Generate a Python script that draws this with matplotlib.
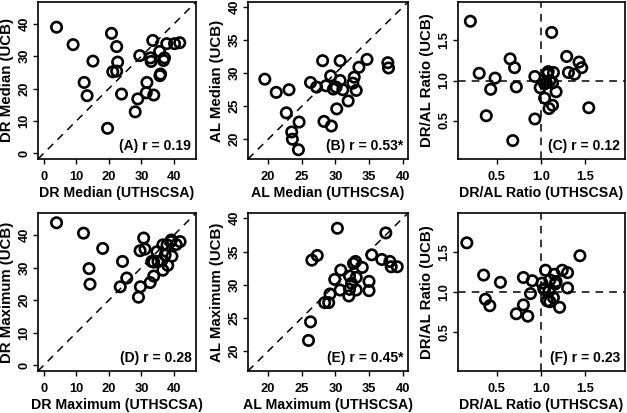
import numpy as np
import matplotlib
matplotlib.use('Agg')
import matplotlib.pyplot as plt

plt.rcParams['font.family'] = ['Liberation Sans', 'DejaVu Sans']
plt.rcParams['font.weight'] = 'bold'

# (A) медианы DR
dr_med_x = [3.9, 9.0, 15.1, 12.4, 13.3, 20.8, 22.4, 22.7, 21.2, 22.4, 23.9, 19.6, 29.5, 28.9, 28.1,
            33.5, 32.8, 33.0, 31.7, 31.5, 33.8, 35.6, 35.9, 35.7, 36.8, 37.1, 37.8, 40.2, 41.8]
dr_med_y = [39.0, 33.6, 28.5, 21.9, 17.8, 37.1, 33.0, 28.2, 25.2, 25.4, 18.3, 7.7, 30.2, 16.8, 12.8,
            34.9, 29.5, 28.4, 21.9, 18.7, 18.0, 31.5, 24.5, 24.0, 28.7, 29.5, 33.9, 33.9, 34.2]

# (B) медианы AL
al_med_x = [19.5, 21.2, 23.1, 22.7, 23.5, 23.6, 24.5, 24.6, 26.3, 27.2, 28.1, 28.6, 28.3, 29.4, 29.3,
            29.7, 30.1, 30.7, 30.7, 31.1, 30.2, 31.9, 32.8, 32.6, 33.1, 33.5, 34.7, 37.8, 37.9]
al_med_y = [29.1, 27.1, 27.5, 24.0, 21.1, 20.0, 18.4, 22.6, 28.6, 27.9, 31.9, 28.1, 22.7, 22.0, 29.6,
            27.6, 27.9, 28.9, 31.9, 27.5, 24.6, 25.8, 29.4, 28.5, 27.4, 30.9, 32.1, 31.6, 30.8]

# (C) отношение DR/AL (медианы)
ratio_med_x = [0.20, 0.30, 0.48, 0.43, 0.38, 0.65, 0.70, 0.72, 0.68, 0.93, 0.93, 0.99, 1.04, 1.06, 1.07,
               1.08, 1.10, 1.04, 1.09, 1.13, 1.12, 1.14, 1.13, 1.17, 1.29, 1.31, 1.38, 1.43, 1.46, 1.54]
ratio_med_y = [1.74, 1.09, 1.03, 0.89, 0.56, 1.27, 1.16, 0.92, 0.25, 1.05, 0.52, 0.91, 0.96, 0.97, 1.08,
               1.11, 1.00, 0.78, 0.65, 0.69, 1.60, 1.10, 0.97, 0.86, 1.30, 1.10, 1.08, 1.23, 1.16, 0.66]

# (D) максимумы DR
dr_max_x = [3.9, 12.2, 18.1, 13.9, 14.2, 24.2, 23.5, 25.5, 30.7, 29.6, 31.1, 29.7, 29.1, 32.7, 33.2,
            33.8, 33.8, 34.8, 35.1, 36.6, 36.3, 36.6, 37.3, 38.1, 37.9, 39.2, 39.4, 39.0, 40.7, 41.9]
dr_max_y = [43.8, 40.6, 35.9, 29.7, 24.9, 31.9, 24.1, 26.8, 39.1, 35.2, 35.7, 24.1, 20.9, 25.4, 31.9,
            31.7, 27.4, 34.9, 31.9, 37.0, 32.2, 29.2, 33.9, 30.7, 37.0, 38.5, 33.5, 38.0, 37.1, 38.0]

# (E) максимумы AL
al_max_x = [26.0, 26.3, 26.5, 27.3, 28.4, 29.0, 29.2, 29.9, 30.3, 30.8, 30.7, 32.0, 32.1, 32.1,
            32.4, 32.7, 33.0, 33.1, 33.1, 34.0, 35.0, 35.0, 35.4, 36.9, 37.5, 38.1, 38.3, 39.2]
al_max_y = [21.6, 24.4, 33.7, 34.4, 27.3, 27.3, 28.6, 30.8, 38.5, 32.2, 29.2, 28.3, 29.3, 31.3,
            30.2, 33.2, 33.5, 31.1, 29.2, 32.6, 30.5, 29.1, 34.5, 33.8, 37.8, 33.5, 32.7, 32.7]

# (F) отношение DR/AL (максимумы)
ratio_max_x = [0.16, 0.35, 0.37, 0.42, 0.54, 0.72, 0.80, 0.80, 0.85, 0.88, 0.90, 1.01, 1.03, 1.04,
               1.05, 1.07, 1.09, 1.10, 1.10, 1.14, 1.15, 1.17, 1.16, 1.21, 1.24, 1.30, 1.30, 1.44]
ratio_max_y = [1.61, 1.21, 0.91, 0.83, 1.12, 0.73, 1.18, 0.84, 0.70, 0.98, 1.14, 1.11, 1.04, 1.03,
               1.27, 0.89, 1.01, 1.15, 0.88, 0.93, 1.22, 1.13, 1.10, 0.81, 1.27, 1.24, 1.05, 1.45]

panels = [
    (dr_med_x, dr_med_y, 'DR Median (UTHSCSA)', 'DR Median (UCB)', '(A) r = 0.19', 'diag'),
    (al_med_x, al_med_y, 'AL Median (UTHSCSA)', 'AL Median (UCB)', '(B) r = 0.53*', 'diag2'),
    (ratio_med_x, ratio_med_y, 'DR/AL Ratio (UTHSCSA)', 'DR/AL Ratio (UCB)', '(C) r = 0.12', 'ratio'),
    (dr_max_x, dr_max_y, 'DR Maximum (UTHSCSA)', 'DR Maximum (UCB)', '(D) r = 0.28', 'diag'),
    (al_max_x, al_max_y, 'AL Maximum (UTHSCSA)', 'AL Maximum (UCB)', '(E) r = 0.45*', 'diag2'),
    (ratio_max_x, ratio_max_y, 'DR/AL Ratio (UTHSCSA)', 'DR/AL Ratio (UCB)', '(F) r = 0.23', 'ratio'),
]

W, H = 627, 413
cols = [(38, 196), (248, 408), (458, 625)]
rows = [(2, 159), (213, 371)]

fig = plt.figure(figsize=(W / 100, H / 100), dpi=100)

for i, (x, y, xl, yl, note, kind) in enumerate(panels):
    l, r = cols[i % 3]
    t, b = rows[i // 3]
    ax = fig.add_axes([l / W, 1 - b / H, (r - l) / W, (b - t) / H])
    if kind == 'diag':
        lim = (-1.8, 46.8)
        ax.plot(lim, lim, 'k--', lw=1.1, dashes=(5, 4))
        ax.set_xlim(lim)
        ax.set_ylim(lim)
        ax.set_xticks([0, 10, 20, 30, 40])
        ax.set_yticks([0, 10, 20, 30, 40])
    elif kind == 'diag2':
        lim = (17.0, 40.8)
        ax.plot(lim, lim, 'k--', lw=1.1, dashes=(5, 4))
        ax.set_xlim(lim)
        ax.set_ylim(lim)
        ax.set_xticks([20, 25, 30, 35, 40])
        ax.set_yticks([20, 25, 30, 35, 40])
    else:
        ax.axhline(1.0, color='k', ls='--', lw=1.1, dashes=(5, 4))
        ax.axvline(1.0, color='k', ls='--', lw=1.1, dashes=(5, 4))
        ax.set_xlim(0.06, 1.95)
        ax.set_ylim(0.02, 1.98)
        ax.set_xticks([0.5, 1.0, 1.5])
        ax.set_yticks([0.5, 1.0, 1.5])
    ax.scatter(x, y, s=56, facecolors='none', edgecolors='black', linewidths=1.9, zorder=3)
    ax.text(0.97, 0.04, note, transform=ax.transAxes, ha='right', va='bottom',
            fontsize=10, fontweight='bold')
    ax.set_xlabel(xl, fontsize=10.2, fontweight='bold', labelpad=2)
    ax.set_ylabel(yl, fontsize=10.8, fontweight='bold', labelpad=3)
    ax.tick_params(length=3.5, width=1, labelsize=9.3, pad=5)
    ax.tick_params(axis='y', labelrotation=90, pad=2)
    for lab in ax.get_yticklabels():
        lab.set_va('center')
    for s in ax.spines.values():
        s.set_linewidth(1.2)

fig.savefig('out.png', dpi=100)
